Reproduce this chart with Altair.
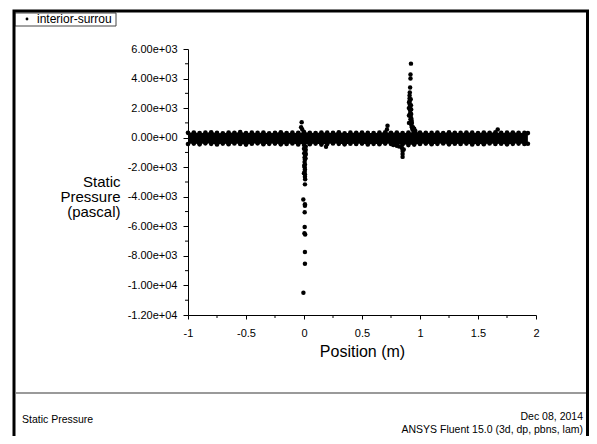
import altair as alt
import pandas as pd

# ---------------- data ----------------
# dense band of points around 0 Pa: envelope (upper / lower) sampled along x
band_x = [-1.00, -0.95, -0.90, -0.85, -0.80, -0.75, -0.70, -0.65, -0.60, -0.55,
          -0.50, -0.45, -0.40, -0.35, -0.30, -0.25, -0.20, -0.15, -0.10, -0.05,
          0.00, 0.05, 0.10, 0.15, 0.20, 0.25, 0.30, 0.35, 0.40, 0.45,
          0.50, 0.55, 0.60, 0.65, 0.70, 0.75, 0.80, 0.85, 0.90, 0.95,
          1.00, 1.05, 1.10, 1.15, 1.20, 1.25, 1.30, 1.35, 1.40, 1.45,
          1.50, 1.55, 1.60, 1.65, 1.70, 1.75, 1.80, 1.85, 1.90, 1.93]
band_upper = [330, 350, 310, 340, 360, 320, 300, 350, 330, 370,
              310, 340, 320, 350, 300, 330, 360, 310, 340, 320,
              380, 330, 310, 350, 340, 320, 360, 300, 340, 330,
              350, 320, 310, 340, 360, 330, 350, 310, 340, 400,
              350, 330, 320, 350, 310, 360, 330, 320, 350, 340,
              310, 350, 330, 360, 320, 340, 350, 330, 320, 310]
band_lower = [-430, -400, -450, -380, -420, -460, -400, -440, -390, -430,
              -470, -410, -380, -440, -420, -400, -450, -430, -390, -460,
              -410, -440, -400, -470, -430, -390, -420, -450, -410, -430,
              -400, -460, -420, -440, -400, -430, -470, -450, -500, -470,
              -430, -400, -440, -420, -390, -450, -410, -430, -400, -460,
              -420, -440, -390, -430, -410, -450, -420, -400, -430, -410]

# isolated points and the two spikes
pts_x = [
    # negative spike at x ~ 0
    0.000, 0.015, 0.000, 0.012, 0.002, 0.010, 0.005, 0.008, 0.005, 0.008,
    0.006, 0.008, 0.006, 0.008, 0.008, 0.010, 0.008, -0.006, 0.008, 0.008,
    0.006, 0.006, 0.004, 0.010, 0.008, 0.008, -0.005,
    0.014, 0.016, 0.013, 0.002, 0.000,
    # bump above band just left of 0
    -0.020, -0.025, -0.015,
    # positive spike at x ~ 0.92
    0.922, 0.918, 0.918, 0.915, 0.912, 0.910, 0.910, 0.910, 0.912, 0.912,
    0.915, 0.915, 0.918, 0.918, 0.920, 0.925, 0.930, 0.935, 0.945, 0.960,
    0.905, 0.905, 0.925, 0.930, 0.940, 0.950,
    0.920, 0.922, 0.924, 0.924, 0.904, 0.906, 0.928,
    # small negative spike at x ~ 0.85
    0.845, 0.850, 0.850, 0.850, 0.860, 0.800, 0.770, 0.820,
    # scattered outliers
    0.720, 0.715, 1.670, 0.190,
]
pts_y = [
    -500, -600, -750, -900, -1050, -1200, -1350, -1470, -1650, -1810,
    -2000, -2150, -2300, -2480, -2650, -2820, -3160, -4180, -4500, -4600,
    -5040, -6050, -6470, -6560, -7740, -8530, -10500,
    -800, -1100, -1400, -1900, -2400,
    1040, 700, 550,
    5010, 4270, 4000, 3390, 3050, 2850, 2650, 2450, 2250, 2050,
    1850, 1650, 1450, 1250, 1050, 850, 700, 550, 450, 450,
    1500, 1000, 1300, 1000, 700, 600,
    2600, 2200, 1900, 1600, 2000, 2400, 1150,
    -700, -900, -1100, -1300, -800, -550, -500, -600,
    800, 550, 560, -610,
]

y_ticks = [6000, 4000, 2000, 0, -2000, -4000, -6000, -8000, -10000, -12000]
y_labels = ["6.00e+03", "4.00e+03", "2.00e+03", "0.00e+00", "-2.00e+03",
            "-4.00e+03", "-6.00e+03", "-8.00e+03", "-1.00e+04", "-1.20e+04"]
y_minor = [5000, 3000, 1000, -1000, -3000, -5000, -7000, -9000, -11000]
x_ticks = [-1, -0.5, 0, 0.5, 1, 1.5, 2]
x_labels = ["-1", "-0.5", "0", "0.5", "1", "1.5", "2"]
x_minor = [-0.75, -0.25, 0.25, 0.75, 1.25, 1.75]

legend_label = "interior-surrou"
footer_left = "Static Pressure"
footer_date = "Dec 08, 2014"
footer_soft = "ANSYS Fluent 15.0 (3d, dp, pbns, lam)"

# ---------------- chart ----------------
FONT = "Liberation Sans"


def label_expr(vals, labs):
    expr = "''"
    for v, l in reversed(list(zip(vals, labs))):
        expr = f"datum.value == {v} ? '{l}' : ({expr})"
    return expr


band_df = pd.DataFrame({"x": band_x, "upper": band_upper, "lower": band_lower})
edge_df = pd.DataFrame({"x": band_x + band_x, "y": band_upper + band_lower})
pts_df = pd.DataFrame({"x": pts_x, "y": pts_y})
ymin_df = pd.DataFrame({"y": y_minor})
xmin_df = pd.DataFrame({"x": x_minor})
one = pd.DataFrame({"a": [0]})

xscale = alt.Scale(domain=[-1, 2], nice=False, zero=False)
yscale = alt.Scale(domain=[-12000, 6000], nice=False, zero=False)

x_axis = alt.Axis(
    values=x_ticks, labelExpr=label_expr(x_ticks, x_labels), tickSize=4,
    labelPadding=8, labelFontSize=11, labelFlush=False, labelOverlap=False,
    grid=False, title="Position (m)", titleFontSize=16, titleFontWeight="normal",
    titleBaseline="middle", titleY=36)
y_axis = alt.Axis(
    values=y_ticks, labelExpr=label_expr(y_ticks, y_labels), tickSize=5,
    labelPadding=6, labelFontSize=11, labelFlush=False, labelOverlap=False,
    grid=False, title=["Static", "Pressure", "(pascal)"], titleAngle=0,
    titleAlign="right", titleBaseline="middle", titleX=-68, titleY=132,
    titleFontSize=15, titleFontWeight="normal", titleLineHeight=15)

X = alt.X("x:Q", scale=xscale, axis=x_axis)
Y = alt.Y("y:Q", scale=yscale, axis=y_axis)
Yb = alt.Y("upper:Q", scale=yscale, axis=y_axis)

band = alt.Chart(band_df).mark_area(color="black").encode(
    x=X, y=Yb, y2="lower:Q")
edges = alt.Chart(edge_df).mark_circle(color="black", size=22, opacity=1).encode(x=X, y=Y)
points = alt.Chart(pts_df).mark_circle(color="black", size=20, opacity=1).encode(x=X, y=Y)
yminor = alt.Chart(ymin_df).mark_rule(color="black").encode(
    y=Y, x=alt.value(-3), x2=alt.value(0))
xminor = alt.Chart(xmin_df).mark_rule(color="black").encode(
    x=X, y=alt.value(266), y2=alt.value(269))

legend_box = alt.Chart(one).mark_rect(fill="white", stroke="#444", strokeWidth=1).encode(
    x=alt.value(-173), x2=alt.value(-72), y=alt.value(-36), y2=alt.value(-23))
legend_dot = alt.Chart(one).mark_circle(color="black", size=8, opacity=1).encode(
    x=alt.value(-161), y=alt.value(-30))
legend_txt = alt.Chart(one).mark_text(align="left", baseline="middle", font=FONT,
                                      fontSize=12, color="black").encode(
    x=alt.value(-151), y=alt.value(-30), text=alt.value(legend_label))
frame = alt.Chart(one).mark_rect(fillOpacity=0, stroke="black", strokeWidth=3).encode(
    x=alt.value(-174), x2=alt.value(399.5), y=alt.value(-38), y2=alt.value(440))
sep = alt.Chart(one).mark_rule(color="#9a9a9a", strokeWidth=2).encode(
    x=alt.value(-172), x2=alt.value(398), y=alt.value(344))
f_left = alt.Chart(one).mark_text(align="left", baseline="middle", font=FONT,
                                  fontSize=10.5, color="black").encode(
    x=alt.value(-166), y=alt.value(371), text=alt.value(footer_left))
f_date = alt.Chart(one).mark_text(align="right", baseline="middle", font=FONT,
                                  fontSize=10.5, color="black").encode(
    x=alt.value(395), y=alt.value(368), text=alt.value(footer_date))
f_soft = alt.Chart(one).mark_text(align="right", baseline="middle", font=FONT,
                                  fontSize=10.5, color="black").encode(
    x=alt.value(395), y=alt.value(381), text=alt.value(footer_soft))

chart = alt.layer(
    band, edges, points, yminor, xminor,
    legend_box, legend_dot, legend_txt, frame, sep, f_left, f_date, f_soft
).properties(
    width=348, height=266,
    autosize=alt.AutoSizeParams(type="none"),
    padding={"left": 180, "top": 41, "right": 53, "bottom": 121},
).configure_view(stroke=None).configure_axis(
    grid=False, domainColor="black", tickColor="black", labelColor="black",
    titleColor="black", labelFont=FONT, titleFont=FONT, titleFontWeight="normal",
    domainWidth=1, tickWidth=1,
)

chart.save("out.html", embed_options={"renderer": "svg", "actions": False})
